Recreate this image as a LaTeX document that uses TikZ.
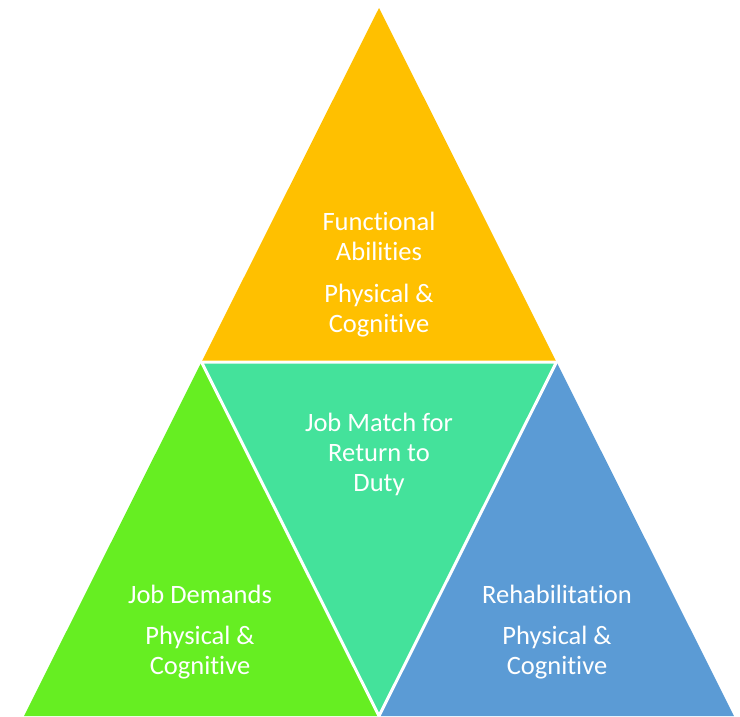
\documentclass[tikz,border=0pt]{standalone}
\usepackage{fontspec}
\setmainfont{Carlito}[Ligatures=CommonOff]
\usetikzlibrary{positioning}

\definecolor{abilityorange}{HTML}{FFC000}
\definecolor{demandgreen}{HTML}{66EE22}
\definecolor{matchteal}{HTML}{44E29B}
\definecolor{rehabblue}{HTML}{5B9BD5}

\begin{document}
\begin{tikzpicture}[
    x=1pt, y=-1pt,
    part/.style={draw=none},
    gap/.style={draw=white, line width=3pt, line join=round},
    label/.style={text=white, align=center, font=\fontsize{26.5}{30}\selectfont}
]

\useasboundingbox (0,0) rectangle (740,716);

% Corners of the big triangle and the midpoints of its sides
\coordinate (apex) at (379,8);
\coordinate (bl) at (24,716);
\coordinate (br) at (734,716);
\coordinate (ml) at (201.5,362);
\coordinate (mr) at (556.5,362);
\coordinate (mb) at (379,716);

% The four parts
\fill[part, abilityorange] (apex) -- (ml) -- (mr) -- cycle;
\fill[part, demandgreen] (ml) -- (bl) -- (mb) -- cycle;
\fill[part, matchteal] (ml) -- (mr) -- (mb) -- cycle;
\fill[part, rehabblue] (mr) -- (mb) -- (br) -- cycle;

% White seams round the middle part
\draw[gap] (ml) -- (mr) -- (mb) -- cycle;

% Texts
\node[label] (abilities) at (379,275) {Functional\\Abilities\\[12pt]Physical \&\\Cognitive};
\node[label] (match) at (379,454) {Job Match for\\Return to\\Duty};
\node[label] (demands) at (200,632) {Job Demands\\[11pt]Physical \&\\Cognitive};
\node[label] (rehab) at (557,632) {Rehabilitation\\[11pt]Physical \&\\Cognitive};

\end{tikzpicture}
\end{document}
